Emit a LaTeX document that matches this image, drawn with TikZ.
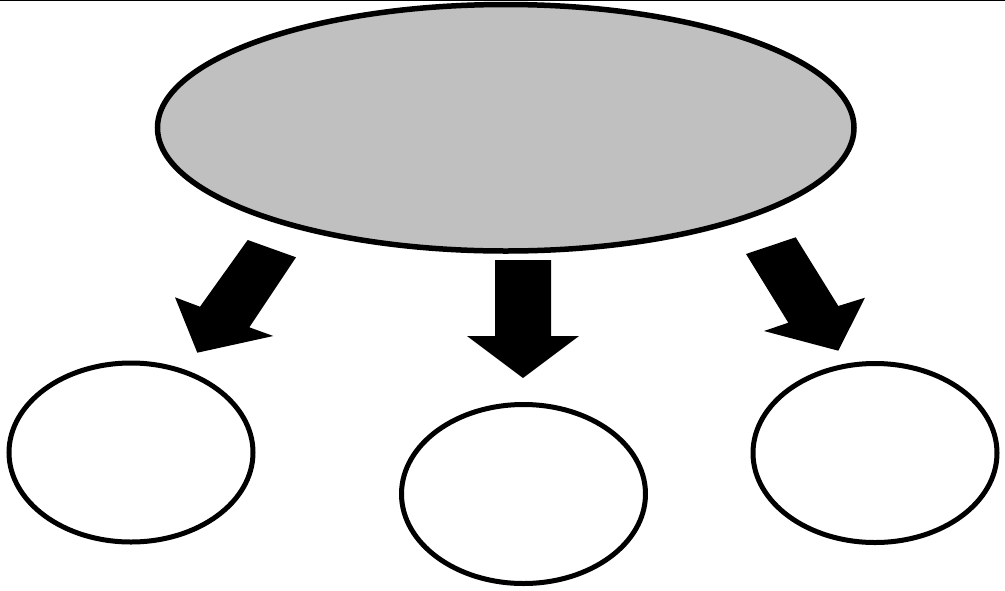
\documentclass[tikz,border=0pt]{standalone}
\usetikzlibrary{shapes.geometric}
\definecolor{fillgray}{RGB}{192,192,192}
\tikzset{
  bigell/.style={draw=black, fill=fillgray, ellipse, line width=5.5pt, inner sep=0pt, outer sep=0pt},
  smallell/.style={draw=black, fill=white, ellipse, line width=5pt, inner sep=0pt, outer sep=0pt, minimum width=244pt, minimum height=179pt},
  blockarrow/.style={fill=black, draw=none}
}
\begin{document}
\begin{tikzpicture}[x=1pt, y=-1pt]
\useasboundingbox (0,0) rectangle (1005,590);
\draw[line width=1.5pt] (0,0.7) -- (1005,0.7);
\node[bigell, minimum width=696.5pt, minimum height=246.5pt] (top) at (505.75,127.75) {};
\node[smallell] (left) at (131,452.5) {};
\node[smallell] (mid) at (523.5,494) {};
\node[smallell] (right) at (875,453) {};
% left block arrow
\fill[blockarrow] (247.7,240) -- (296,257.3) -- (249.3,327.3) -- (273.3,336) -- (197.3,352.7) -- (175,297.3) -- (200,306.7) -- cycle;
% middle block arrow
\fill[blockarrow] (495,260) -- (551,260) -- (551,336) -- (579,336) -- (523,378) -- (467,336) -- (495,336) -- cycle;
% right block arrow
\fill[blockarrow] (746,254) -- (795.7,237.3) -- (838.3,306) -- (865,297.7) -- (838.3,350.7) -- (764,331) -- (788.3,322.7) -- cycle;
\end{tikzpicture}
\end{document}
